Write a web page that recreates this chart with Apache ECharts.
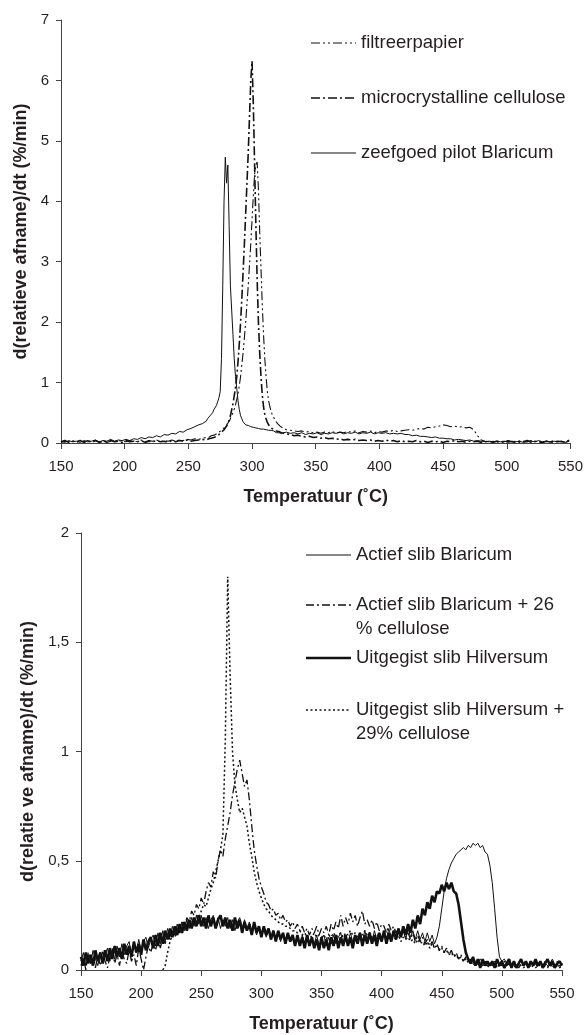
<!DOCTYPE html>
<html>
<head>
<meta charset="utf-8">
<script src="https://cdn.jsdelivr.net/npm/echarts/dist/echarts.min.js"></script>
<style>
html, body { margin: 0; padding: 0; background: #fff; }
#chart { width: 586px; height: 1035px; }
</style>
</head>
<body>
<div id="chart"></div>
<script>
// temperatuur-rasters (°C)
function range(a, b, step) { var r = []; for (var t = a; t <= b; t += step) r.push(t); return r; }
var tempTop = range(150, 264, 3).concat(range(265, 325, 1), range(327, 549, 3));
var tempBottom = range(150, 550, 2);

// bovenste grafiek: d(relatieve afname)/dt (%/min)
var topNames = ['filtreerpapier', 'microcrystalline cellulose', 'zeefgoed pilot Blaricum'];

var filtreer = [
  0.01,0.03,0.02,0.04,0.01,0.03,0.02,0.04,0.01,0.03,
  0.02,0.04,0.01,0.03,0.02,0.04,0.03,0.02,0.04,0.02,
  0.03,0.05,0.02,0.04,0.03,0.05,0.02,0.04,0.03,0.05,
  0.03,0.05,0.04,0.06,0.05,0.07,0.06,0.08,0.09,
  0.1,0.09,0.11,0.12,0.11,0.13,0.14,0.15,0.16,0.18,
  0.19,0.21,0.23,0.25,0.28,0.3,0.33,0.36,0.4,0.45,
  0.5,0.56,0.63,0.72,0.82,0.95,1.1,1.3,1.5,1.75,
  2.0,2.3,2.6,2.95,3.3,3.7,4.1,4.45,4.6,4.65,
  4.2,3.5,2.9,2.3,1.8,1.4,1.1,0.85,0.7,0.6,
  0.52,0.46,0.42,0.38,0.35,0.32,0.3,0.28,0.26,0.25,
  0.24,
  0.22,0.21,0.2,0.19,0.2,0.18,0.19,0.17,0.18,0.16,
  0.18,0.17,0.19,0.16,0.18,0.17,0.19,0.18,0.2,0.17,
  0.19,0.18,0.2,0.17,0.19,0.18,0.2,0.19,0.21,0.19,
  0.2,0.21,0.22,0.21,0.23,0.24,0.23,0.26,0.25,0.27,
  0.28,0.3,0.29,0.27,0.28,0.26,0.27,0.25,0.26,0.22,
  0.12,0.05,0.03,0.02,0.03,0.01,0.03,0.02,0.04,0.02,
  0.03,0.01,0.03,0.02,0.04,0.02,0.03,0.01,0.03,0.02,
  0.04,0.02,0.03,0.01,0.03
];

var micro = [
  0.02,0.04,0.01,0.03,0.02,0.04,0.01,0.03,0.02,0.04,
  0.01,0.03,0.02,0.04,0.02,0.03,0.01,0.04,0.02,0.03,
  0.02,0.04,0.01,0.03,0.02,0.04,0.02,0.03,0.01,0.04,
  0.02,0.04,0.03,0.05,0.03,0.04,0.05,0.06,0.05,
  0.06,0.07,0.06,0.08,0.07,0.09,0.1,0.11,0.12,0.14,
  0.16,0.18,0.2,0.22,0.25,0.28,0.32,0.38,0.45,0.55,
  0.65,0.78,0.92,1.1,1.35,1.65,2.0,2.4,2.85,3.3,
  3.8,4.3,4.8,5.4,6.0,6.32,5.6,4.6,3.6,2.7,
  2.0,1.5,1.1,0.8,0.6,0.48,0.4,0.34,0.3,0.27,
  0.25,0.23,0.22,0.21,0.2,0.19,0.19,0.18,0.17,0.17,
  0.16,
  0.15,0.14,0.12,0.13,0.11,0.1,0.11,0.09,0.1,0.08,
  0.09,0.07,0.08,0.06,0.07,0.05,0.06,0.05,0.06,0.04,
  0.05,0.04,0.05,0.03,0.04,0.03,0.05,0.03,0.04,0.02,
  0.04,0.02,0.03,0.02,0.04,0.02,0.03,0.01,0.03,0.02,
  0.03,0.01,0.03,0.02,0.04,0.02,0.03,0.01,0.03,0.02,
  0.03,0.01,0.02,0.03,0.01,0.03,0.02,0.01,0.03,0.02,
  0.01,0.03,0.02,0.04,0.01,0.03,0.02,0.01,0.03,0.02,
  0.01,0.03,0.02,0.01,0.05
];

var zeefgoed = [
  0.03,0.01,0.04,0.02,0.03,0.01,0.04,0.02,0.03,0.05,
  0.02,0.04,0.03,0.06,0.03,0.05,0.04,0.06,0.04,0.07,
  0.06,0.09,0.07,0.1,0.09,0.12,0.1,0.14,0.13,0.16,
  0.15,0.19,0.18,0.22,0.24,0.27,0.3,0.32,0.36,
  0.4,0.42,0.45,0.48,0.5,0.55,0.58,0.62,0.68,0.75,
  0.85,1.4,2.6,4.0,4.73,4.3,4.6,3.6,2.6,2.2,
  1.8,1.4,1.1,0.9,0.7,0.55,0.45,0.4,0.35,0.32,
  0.3,0.28,0.29,0.26,0.27,0.25,0.26,0.24,0.25,0.23,
  0.24,0.22,0.23,0.21,0.23,0.2,0.22,0.2,0.21,0.19,
  0.21,0.18,0.2,0.19,0.17,0.19,0.17,0.19,0.16,0.18,
  0.17,
  0.18,0.16,0.17,0.15,0.17,0.14,0.16,0.15,0.17,0.14,
  0.16,0.15,0.17,0.16,0.18,0.15,0.17,0.16,0.18,0.15,
  0.17,0.16,0.18,0.15,0.17,0.16,0.17,0.15,0.16,0.15,
  0.16,0.14,0.14,0.12,0.13,0.11,0.11,0.1,0.09,0.1,
  0.08,0.08,0.07,0.07,0.05,0.06,0.05,0.04,0.05,0.03,
  0.04,0.03,0.02,0.03,0.02,0.03,0.02,0.03,0.01,0.03,
  0.02,0.03,0.01,0.02,0.03,0.02,0.04,0.02,0.03,0.01,
  0.03,0.02,0.03,0.01,0.04
];

// onderste grafiek
var bottomNames = ['Actief slib Blaricum', 'Actief slib Blaricum + 26\n% cellulose',
  'Uitgegist slib Hilversum', 'Uitgegist slib Hilversum +\n29% cellulose'];

var actief = [
  0.04,0.08,0.02,0.07,0.03,0.09,0.05,0.02,0.08,0.04,
  0.07,0.1,0.04,0.09,0.05,0.11,0.06,0.12,0.07,0.11,
  0.13,0.07,0.12,0.08,0.14,0.09,0.13,0.15,0.1,0.14,
  0.16,0.11,0.17,0.12,0.18,0.13,0.19,0.15,0.2,0.16,
  0.21,0.17,0.22,0.18,0.23,0.19,0.24,0.2,0.25,0.21,
  0.25,0.2,0.24,0.19,0.23,0.25,0.2,0.24,0.19,0.23,
  0.2,0.24,0.19,0.23,0.18,0.22,0.24,0.19,0.23,0.18,
  0.22,0.17,0.21,0.16,0.2,0.16,0.19,0.15,0.19,0.14,
  0.18,0.14,0.17,0.13,0.17,0.12,0.16,0.13,0.16,0.12,
  0.15,0.11,0.16,0.12,0.15,0.11,0.15,0.12,0.16,0.11,
  0.14,0.16,0.11,0.15,0.12,0.16,0.12,0.15,0.17,0.12,
  0.16,0.12,0.17,0.13,0.16,0.12,0.17,0.13,0.18,0.14,
  0.17,0.13,0.18,0.14,0.17,0.13,0.18,0.14,0.19,0.15,
  0.18,0.14,0.19,0.15,0.18,0.14,0.19,0.15,0.18,0.14,
  0.18,0.14,0.17,0.13,0.17,0.13,0.16,0.12,0.15,0.2,
  0.28,0.36,0.42,0.46,0.49,0.51,0.53,0.54,0.55,0.56,
  0.55,0.57,0.56,0.58,0.57,0.58,0.56,0.57,0.54,0.53,
  0.48,0.4,0.28,0.15,0.06,0.04,0.05,0.03,0.04,0.02,
  0.04,0.02,0.03,0.05,0.02,0.03,0.01,0.04,0.02,0.03,
  0.02,0.04,0.01,0.03,0.02,0.03,0.05,0.02,0.03,0.01,
  0.03
];

var actiefCell = [
  0.02,0.06,0.0,0.08,0.03,0.05,0.01,0.07,0.02,0.09,
  0.04,0.01,0.06,0.1,0.03,0.07,0.02,0.08,0.05,0.03,
  0.09,0.04,0.07,0.02,0.1,0.05,0.0,0.06,0.11,0.08,
  0.12,0.09,0.14,0.1,0.15,0.12,0.17,0.14,0.18,0.16,
  0.2,0.17,0.22,0.19,0.24,0.22,0.27,0.25,0.3,0.28,
  0.33,0.3,0.36,0.4,0.38,0.45,0.42,0.5,0.55,0.52,
  0.6,0.66,0.72,0.8,0.86,0.92,0.96,0.9,0.84,0.87,
  0.78,0.66,0.55,0.48,0.42,0.38,0.35,0.31,0.3,0.27,
  0.28,0.25,0.26,0.23,0.25,0.22,0.23,0.2,0.22,0.19,
  0.21,0.18,0.2,0.17,0.19,0.16,0.19,0.17,0.2,0.16,
  0.19,0.17,0.2,0.16,0.21,0.18,0.22,0.19,0.25,0.2,
  0.24,0.21,0.26,0.22,0.25,0.2,0.24,0.27,0.21,0.23,
  0.2,0.23,0.19,0.22,0.18,0.21,0.2,0.17,0.21,0.18,
  0.2,0.17,0.19,0.16,0.18,0.15,0.17,0.14,0.17,0.13,
  0.16,0.13,0.15,0.12,0.14,0.11,0.13,0.1,0.12,0.09,
  0.11,0.08,0.1,0.07,0.09,0.06,0.08,0.05,0.07,0.04,
  0.06,0.03,0.05,0.02,0.04,0.03,0.05,0.02,0.04,0.01,
  0.03,0.02,0.04,0.01,0.03,0.02,0.04,0.02,0.03,0.01,
  0.03,0.02,0.01,0.03,0.02,0.04,0.01,0.03,0.02,0.03,
  0.01,0.03,0.02,0.04,0.02,0.01,0.03,0.02,0.04,0.02,
  0.03
];

var uitgegist = [
  0.06,0.02,0.08,0.03,0.07,0.02,0.09,0.04,0.08,0.03,
  0.09,0.04,0.1,0.05,0.11,0.06,0.1,0.05,0.12,0.07,
  0.11,0.06,0.13,0.08,0.12,0.07,0.14,0.09,0.13,0.15,
  0.1,0.16,0.11,0.17,0.12,0.18,0.14,0.19,0.15,0.2,
  0.16,0.21,0.17,0.22,0.18,0.23,0.19,0.24,0.2,0.25,
  0.2,0.24,0.19,0.25,0.2,0.24,0.19,0.23,0.25,0.2,
  0.24,0.19,0.23,0.18,0.24,0.19,0.23,0.17,0.22,0.18,
  0.21,0.16,0.22,0.17,0.2,0.15,0.2,0.16,0.19,0.14,
  0.18,0.13,0.18,0.14,0.17,0.12,0.17,0.13,0.16,0.11,
  0.16,0.11,0.15,0.1,0.16,0.11,0.15,0.1,0.14,0.09,
  0.15,0.1,0.14,0.09,0.15,0.11,0.16,0.1,0.15,0.11,
  0.16,0.11,0.15,0.1,0.16,0.12,0.17,0.11,0.16,0.12,
  0.17,0.12,0.16,0.11,0.17,0.13,0.18,0.12,0.17,0.13,
  0.18,0.14,0.19,0.15,0.2,0.16,0.21,0.17,0.23,0.19,
  0.25,0.21,0.28,0.25,0.31,0.28,0.34,0.31,0.36,0.35,
  0.39,0.36,0.4,0.37,0.4,0.36,0.35,0.3,0.22,0.14,
  0.08,0.05,0.03,0.06,0.02,0.05,0.01,0.05,0.02,0.04,
  0.02,0.04,0.01,0.05,0.02,0.04,0.01,0.03,0.05,0.01,
  0.04,0.01,0.03,0.05,0.02,0.04,0.01,0.04,0.02,0.05,
  0.02,0.04,0.01,0.03,0.05,0.02,0.04,0.01,0.03,0.04,
  0.02
];

var uitgegistCell = [
  null,null,null,null,null,null,null,null,null,null,
  null,null,null,null,null,null,null,null,null,null,
  null,null,null,null,null,null,null,null,null,null,
  null,null,null,null,0.0,0.02,0.08,0.13,0.16,0.15,
  0.18,0.17,0.2,0.19,0.21,0.2,0.23,0.22,0.25,0.24,
  0.27,0.3,0.29,0.33,0.37,0.4,0.45,0.5,0.55,0.62,
  1.05,1.8,1.35,1.0,0.85,0.78,0.72,0.74,0.7,0.66,
  0.58,0.52,0.45,0.4,0.36,0.33,0.3,0.28,0.27,0.25,
  0.24,0.23,0.22,0.21,0.21,0.2,0.2,0.19,0.18,0.18,
  0.17,0.18,0.16,0.17,0.15,0.16,0.15,0.17,0.15,0.16,
  0.15,0.16,0.14,0.16,0.15,0.17,0.15,0.16,0.17,0.15,
  0.17,0.16,0.18,0.16,0.17,0.15,0.17,0.16,0.18,0.16,
  0.17,0.15,0.16,0.15,0.17,0.14,0.16,0.15,0.16,0.14,
  0.15,0.14,0.16,0.13,0.15,0.14,0.15,0.13,0.14,0.12,
  0.14,0.12,0.13,0.11,0.13,0.1,0.12,0.1,0.11,0.09,
  0.1,0.08,0.09,0.07,0.08,0.06,0.07,0.05,0.06,0.04,
  0.05,0.04,0.05,0.03,0.04,0.02,0.03,0.02,0.04,0.02,
  0.03,0.02,0.03,0.01,0.02,0.03,0.01,0.02,0.03,0.02,
  0.02,0.01,0.03,0.02,0.01,0.02,0.03,0.01,0.02,0.01,
  0.02,0.03,0.01,0.02,0.01,0.03,0.02,0.01,0.02,0.01,
  0.02
];

var FONT = '"Liberation Sans", Arial, sans-serif';
var INK = '#231f20';

function pairs(temps, vals) {
  var out = [];
  for (var i = 0; i < temps.length; i++) {
    if (vals[i] != null) out.push([temps[i], vals[i]]);
  }
  return out;
}

function xAxisFor(gi) {
  return {
    type: 'value', gridIndex: gi, min: 150, max: 550, interval: 50,
    name: 'Temperatuur (˚C)', nameLocation: 'middle', nameGap: 45,
    nameTextStyle: { fontFamily: FONT, fontSize: 18, fontWeight: 'bold', color: INK },
    axisLine: { show: true, onZero: false, lineStyle: { color: '#444', width: 1 } },
    axisTick: { show: true, length: 6, lineStyle: { color: '#444' } },
    axisLabel: { fontFamily: FONT, fontSize: 15, color: INK, margin: 16 },
    splitLine: { show: false }
  };
}

function yAxisFor(gi, max, step, title, gap, fmt) {
  return {
    type: 'value', gridIndex: gi, min: 0, max: max, interval: step,
    name: title, nameLocation: 'middle', nameGap: gap, nameRotate: 90,
    nameTextStyle: { fontFamily: FONT, fontSize: 18, fontWeight: 'bold', color: INK },
    axisLine: { show: true, lineStyle: { color: '#444', width: 1 } },
    axisTick: { show: true, length: 5, lineStyle: { color: '#444' } },
    axisLabel: { fontFamily: FONT, fontSize: 15, color: INK, margin: 12, formatter: fmt },
    splitLine: { show: false }
  };
}

function lineSeries(name, gi, temps, vals, width, dash) {
  return {
    name: name, type: 'line', xAxisIndex: gi, yAxisIndex: gi,
    data: pairs(temps, vals), showSymbol: false, symbol: 'none',
    lineStyle: { color: '#111', width: width, type: dash || 'solid' },
    silent: true
  };
}

// legenda als losse tekeningen (lijnstuk + tekst)
function legendItems(x0, ys, names, widths, dashes) {
  var els = [];
  names.forEach(function (n, i) {
    els.push({
      type: 'line', silent: true,
      shape: { x1: x0, y1: ys[i], x2: x0 + 45, y2: ys[i] },
      style: { stroke: '#111', lineWidth: widths[i], lineDash: dashes[i] }
    });
    els.push({
      type: 'text', silent: true, x: x0 + 50, y: ys[i] - 12,
      style: { text: n, font: '18.5px ' + FONT, fill: INK, lineHeight: 24 }
    });
  });
  return els;
}

var topDash = [[9, 3, 2, 3, 2, 3], [9, 3, 2, 3], null];
var topWidth = [1.1, 1.6, 1];
var botDash = [null, [8, 3, 2, 3], null, [2, 2.5]];
var botWidth = [1, 1.3, 2.6, 1.5];

var chart = echarts.init(document.getElementById('chart'));

chart.setOption({
  animation: false,
  backgroundColor: '#fff',
  grid: [
    { left: 61, top: 20, width: 512, height: 423 },
    { left: 81, top: 533, width: 481, height: 437 }
  ],
  xAxis: [xAxisFor(0), xAxisFor(1)],
  yAxis: [
    yAxisFor(0, 7, 1, 'd(relatieve afname)/dt (%/min)', 29),
    yAxisFor(1, 2, 0.5, 'd(relatie ve afname)/dt (%/min)', 42,
      function (v) { return String(v).replace('.', ','); })
  ],
  series: [
    lineSeries(topNames[0], 0, tempTop, filtreer, topWidth[0], topDash[0]),
    lineSeries(topNames[1], 0, tempTop, micro, topWidth[1], topDash[1]),
    lineSeries(topNames[2], 0, tempTop, zeefgoed, topWidth[2], topDash[2]),
    lineSeries(bottomNames[0], 1, tempBottom, actief, botWidth[0], botDash[0]),
    lineSeries(bottomNames[1], 1, tempBottom, actiefCell, botWidth[1], botDash[1]),
    lineSeries(bottomNames[3], 1, tempBottom, uitgegistCell, botWidth[3], botDash[3]),
    lineSeries(bottomNames[2], 1, tempBottom, uitgegist, botWidth[2], botDash[2])
  ],
  graphic: legendItems(311, [43, 98, 153], topNames, topWidth, topDash)
    .concat(legendItems(306, [555, 605, 658, 710], bottomNames, botWidth, botDash))
});
</script>
</body>
</html>
